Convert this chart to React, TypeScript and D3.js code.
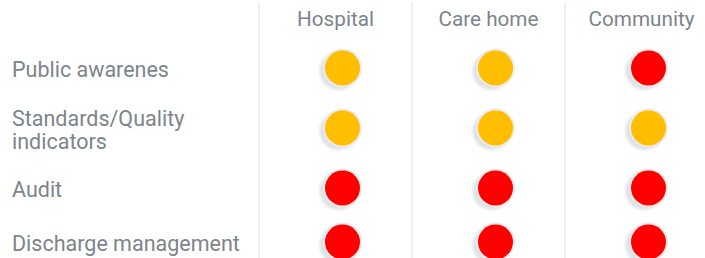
import React, { useRef, useEffect } from 'react'
import { select, scaleBand, scaleOrdinal, sum } from 'd3'

const columns = ['Hospital', 'Care home', 'Community']
const rows = ['Public awarenes', 'Standards/Quality\nindicators', 'Audit', 'Discharge management']
// status per row, per column
const statuses = [
  ['amber', 'amber', 'red'],
  ['amber', 'amber', 'amber'],
  ['red', 'red', 'red'],
  ['red', 'red', 'red'],
]

const width = 705
const height = 258

const App = () => {
  const svgRef = useRef<SVGSVGElement>(null)

  useEffect(() => {
    const svg = select(svgRef.current)
    svg.selectAll('*').remove()

    const gray = '#7d848a'
    const font = 'Roboto, "Noto Sans", sans-serif'

    const defs = svg.append('defs')
    defs.append('filter')
      .attr('id', 'soft')
      .attr('x', '-50%').attr('y', '-50%').attr('width', '200%').attr('height', '200%')
      .append('feGaussianBlur').attr('stdDeviation', 1.6)

    // columns
    const x = scaleBand<string>().domain(columns).range([259, 718])

    // rows: height grows with line count
    const lineCount = rows.map(r => r.split('\n').length)
    const baseRow = 54
    const extraLine = 12
    const rowH = lineCount.map(n => baseRow + (n - 1) * extraLine)
    const top = 68 - rowH[0] / 2
    const rowY = rowH.map((h, i) => top + sum(rowH.slice(0, i)) + h / 2)

    const color = scaleOrdinal<string, string>().domain(['amber', 'red']).range(['#ffbf00', '#ff0000'])

    // dividers
    svg.append('g')
      .selectAll('line')
      .data(columns)
      .enter()
      .append('line')
      .attr('x1', d => x(d)!)
      .attr('x2', d => x(d)!)
      .attr('y1', 2)
      .attr('y2', height)
      .attr('stroke', '#e8eaed')
      .attr('stroke-width', 1.5)

    // header
    svg.append('g')
      .selectAll('text')
      .data(columns)
      .enter()
      .append('text')
      .attr('x', d => x(d)! + x.bandwidth() / 2)
      .attr('y', 26)
      .attr('text-anchor', 'middle')
      .attr('font-family', font)
      .attr('font-size', 20.7)
      .attr('fill', gray)
      .text(d => d)

    // row labels
    const labels = svg.append('g')
      .selectAll('text')
      .data(rows)
      .enter()
      .append('text')
      .attr('font-family', font)
      .attr('font-size', 21.5)
      .attr('fill', gray)

    labels.each(function (d, i) {
      const lines = d.split('\n')
      const lh = 23
      lines.forEach((ln, j) => {
        select(this).append('tspan')
          .attr('x', 12)
          .attr('y', rowY[i] + 9 + (j - (lines.length - 1) / 2) * lh)
          .text(ln)
      })
    })

    // dots
    const cells = statuses.flatMap((r, i) => r.map((s, j) => ({ row: i, col: columns[j], s })))
    const dots = svg.append('g')
      .selectAll('g')
      .data(cells)
      .enter()
      .append('g')
      .attr('transform', d => `translate(${x(d.col)! + x.bandwidth() / 2 + 7}, ${rowY[d.row]})`)

    dots.append('circle')
      .attr('cx', -4)
      .attr('cy', 3)
      .attr('r', 19)
      .attr('fill', '#dfe1e4')
      .attr('filter', 'url(#soft)')
    dots.append('circle')
      .attr('r', 19.5)
      .attr('fill', '#ebebeb')
    dots.append('circle')
      .attr('r', 17.5)
      .attr('fill', d => color(d.s))
  }, [])

  return (
    <svg
      ref={svgRef}
      width={width}
      height={height}
      style={{ position: 'fixed', left: 0, top: 0, background: '#fff' }}
    ></svg>
  )
}

export default App
